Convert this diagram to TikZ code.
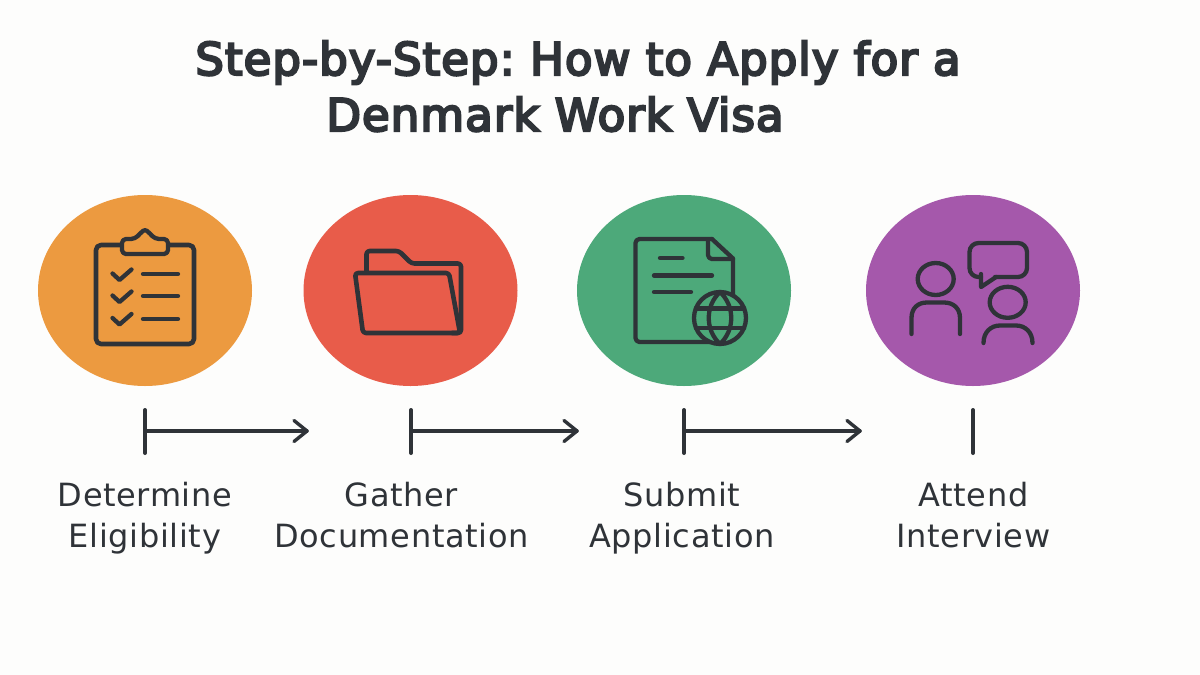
\documentclass[tikz,border=0pt]{standalone}
\usepackage{fontspec}
\setmainfont[LetterSpace=2]{DejaVu Sans}
\newfontfamily\titlefont[FakeBold=5,LetterSpace=2.3]{DejaVu Sans}
\definecolor{ink}{HTML}{2F3338}
\definecolor{paper}{HTML}{FDFDFC}
\definecolor{orangec}{HTML}{EC9A40}
\definecolor{redc}{HTML}{E85C4A}
\definecolor{greenc}{HTML}{4DA97A}
\definecolor{purplec}{HTML}{A558AB}
\tikzset{
 stepdisc/.style={ellipse,minimum width=214pt,minimum height=191pt,inner sep=0pt},
 icon/.style={draw=ink,line width=4.6pt,line cap=round,line join=round},
 iconthin/.style={draw=ink,line width=4.3pt,line cap=round,line join=round},
 conn/.style={draw=ink,line width=3.4pt,line cap=round,line join=round},
 connbar/.style={draw=ink,line width=4pt,line cap=round},
 steplabel/.style={text=ink,font=\fontsize{32}{40.5}\selectfont,align=center,inner sep=0pt,anchor=base},
 titleline/.style={text=ink,font=\titlefont\frenchspacing\fontsize{45}{54}\selectfont,inner sep=0pt,anchor=base},
}
\usetikzlibrary{shapes.geometric}
\begin{document}
\begin{tikzpicture}[x=1pt,y=-1pt]
\useasboundingbox[fill=paper] (0,0) rectangle (1200,675);
% title
\node[titleline] (t1) at (578,75) {Step-by-Step: How to Apply for a};
\node[titleline] (t2) at (555,131) {Denmark Work Visa};
% discs
\node[stepdisc,fill=orangec] (d1) at (145,290.5) {};
\node[stepdisc,fill=redc] (d2) at (410.5,290.5) {};
\node[stepdisc,fill=greenc] (d3) at (684,290.5) {};
\node[stepdisc,fill=purplec] (d4) at (973,290.5) {};
% clipboard
\draw[icon,rounded corners=5pt] (122,245) -- (96,245) -- (96,344) -- (194,344) -- (194,245) -- (168,245);
\draw[iconthin,rounded corners=4pt,fill=orangec] (122,239) -- (122,254) -- (168,254) -- (168,239) -- (155,239) -- (150,233.5) .. controls (146,230) and (144,230) .. (140,233.5) -- (135,239) -- cycle;
\foreach \dy in {0,22,44.5}{
 \draw[iconthin] (112.5,273.5+\dy) -- (119.5,280+\dy) -- (131.5,269.5+\dy);
}
\draw[iconthin] (143,274) -- (178,274);
\draw[iconthin] (143,296) -- (178,296);
\draw[iconthin] (143,319) -- (178,319);
% folder
\draw[icon,rounded corners=3pt] (366.5,272) -- (366.5,251) -- (399,251) -- (411.5,263.5) -- (461,263.5) -- (461,333) -- (452,333);
\draw[icon,rounded corners=3pt] (355,273) -- (449,273) -- (460,333) -- (363,333) -- cycle;
% document with globe
\draw[iconthin,rounded corners=4pt] (712,239) -- (635.5,239) -- (635.5,342) -- (720,342);
\draw[iconthin] (712,239) -- (733,258.5) -- (733,294);
\draw[iconthin,rounded corners=4pt] (708,240) -- (708,259) -- (733,259);
\draw[iconthin] (660,258) -- (682.5,258);
\draw[iconthin] (654,275.5) -- (712,275.5);
\draw[iconthin] (654,292) -- (691,292);
\node[circle,draw=ink,line width=4.3pt,minimum size=52pt,inner sep=0pt,fill=greenc] (g) at (720,318) {};
\draw[iconthin] (720,292) .. controls (705,306) and (705,330) .. (720,344) .. controls (735,330) and (735,306) .. (720,292);
\draw[iconthin] (696,308.5) -- (744,308.5);
\draw[iconthin] (696,328) -- (744,328);
% people
\draw[iconthin] (935.7,279) ellipse [x radius=18pt,y radius=16pt];
\draw[icon,line width=4.3pt] (911.5,334) -- (911.5,318) .. controls (911.5,308) and (918,302.5) .. (927,302.5) -- (944,302.5) .. controls (953,302.5) and (960,308) .. (960,318) -- (960,334);
\draw[iconthin] (1007.7,302.3) ellipse [x radius=18pt,y radius=15.5pt];
\draw[icon,line width=4.3pt] (983.5,343) .. controls (983.5,332) and (991,325.5) .. (1000,325.5) -- (1016,325.5) .. controls (1025,325.5) and (1032.5,332) .. (1032.5,343);
\draw[iconthin,rounded corners=9pt] (995,277) -- (1027,277) -- (1027,243) -- (969.5,243) -- (969.5,277) -- (981,277);
\draw[iconthin] (981,274) -- (981,287) -- (996,277);
% connectors
\coordinate (b1t) at (145,410); \coordinate (b1b) at (145,453);
\coordinate (a1s) at (145,431); \coordinate (a1e) at (307,431);
\coordinate (b2t) at (411,410); \coordinate (b2b) at (411,453);
\coordinate (a2s) at (411,431); \coordinate (a2e) at (577,431);
\coordinate (b3t) at (684,410); \coordinate (b3b) at (684,453);
\coordinate (a3s) at (684,431); \coordinate (a3e) at (860,431);
\coordinate (b4t) at (973,410); \coordinate (b4b) at (973,453);
\foreach \i in {1,2,3,4}{\draw[connbar] (b\i t) -- (b\i b);}
\foreach \i in {1,2,3}{
 \draw[conn] (a\i s) -- (a\i e);
 \draw[conn] ([shift={(-13,-10.5)}]a\i e) -- (a\i e) -- ([shift={(-13,10.5)}]a\i e);
}
% labels
\node[steplabel] (l1) at (145,547) {Determine\\Eligibility};
\node[steplabel] (l2) at (401.5,547) {Gather\\Documentation};
\node[steplabel] (l3) at (682,547) {Submit\\Application};
\node[steplabel] (l4) at (973.5,547) {Attend\\Interview};
\end{tikzpicture}
\end{document}
